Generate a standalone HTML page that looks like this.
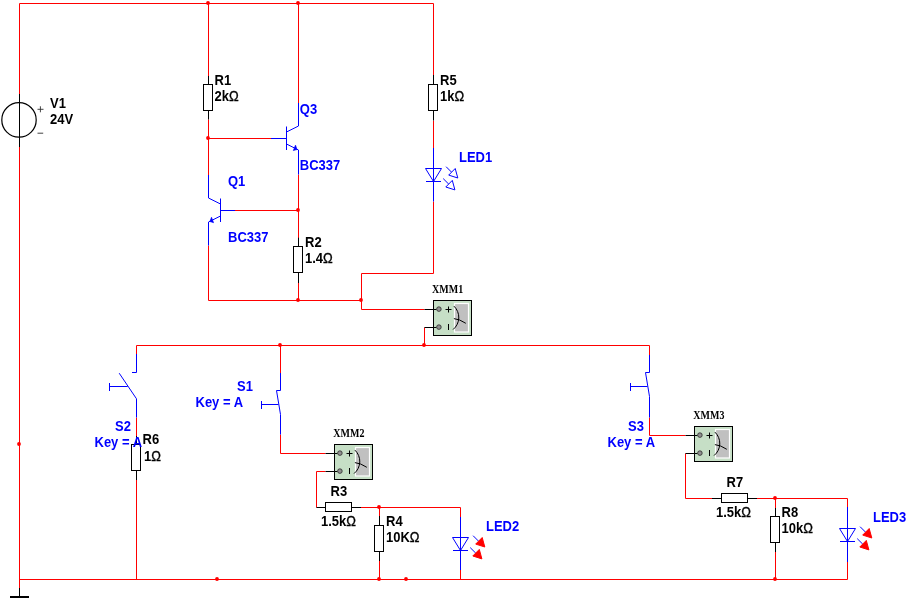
<!DOCTYPE html>
<html lang="en">
<head>
<meta charset="utf-8">
<title>Circuit schematic</title>
<style>
html,body{margin:0;padding:0;background:#fff;}
body{width:912px;height:616px;overflow:hidden;}
svg{display:block;}
.lb{font-family:"Liberation Sans",Arial,sans-serif;font-size:13px;font-weight:700;}
.om{font-weight:400;font-size:13px;stroke:#000;stroke-width:0.35px;}
.xm{font-family:"Liberation Serif","Times New Roman",serif;font-size:11.6px;font-weight:700;}
</style>
</head>
<body>
<svg width="912" height="616" viewBox="0 0 912 616">
<defs><filter id="soft" x="0" y="0" width="100%" height="100%" filterUnits="userSpaceOnUse"><feGaussianBlur stdDeviation="0.3"/></filter></defs>
<rect x="0" y="0" width="912" height="616" fill="#ffffff"/>
<g filter="url(#soft)">
<polyline points="433.5,60 433.5,3.5 19.5,3.5 19.5,94" stroke="#ff0000" stroke-width="1" fill="none" />
<polyline points="19.5,147 19.5,588" stroke="#ff0000" stroke-width="1" fill="none" />
<polyline points="19.5,579.5 847.5,579.5 847.5,562" stroke="#ff0000" stroke-width="1" fill="none" />
<polyline points="19.5,588 19.5,596" stroke="#000000" stroke-width="1" fill="none" />
<rect x="10" y="596" width="19" height="2" fill="#000000"/>
<polyline points="208.5,3.5 208.5,76" stroke="#ff0000" stroke-width="1" fill="none" />
<polyline points="208.5,119.5 208.5,175" stroke="#ff0000" stroke-width="1" fill="none" />
<polyline points="208.5,138.5 271,138.5" stroke="#ff0000" stroke-width="1" fill="none" />
<polyline points="298.5,3.5 298.5,103" stroke="#ff0000" stroke-width="1" fill="none" />
<polyline points="298.5,174.5 298.5,238" stroke="#ff0000" stroke-width="1" fill="none" />
<polyline points="235,210.5 298.5,210.5" stroke="#ff0000" stroke-width="1" fill="none" />
<polyline points="298.5,283 298.5,300.5" stroke="#ff0000" stroke-width="1" fill="none" />
<polyline points="208.5,245.5 208.5,300.5 361.5,300.5" stroke="#ff0000" stroke-width="1" fill="none" />
<polyline points="433.5,120.5 433.5,148" stroke="#ff0000" stroke-width="1" fill="none" />
<polyline points="433.5,201.5 433.5,273.5 361.5,273.5 361.5,309.5 424.5,309.5" stroke="#ff0000" stroke-width="1" fill="none" />
<polyline points="424.5,327.5 424.5,345.5" stroke="#ff0000" stroke-width="1" fill="none" />
<polyline points="136.5,354 136.5,345.5 649.5,345.5 649.5,355" stroke="#ff0000" stroke-width="1" fill="none" />
<polyline points="136.5,417.5 136.5,436" stroke="#ff0000" stroke-width="1" fill="none" />
<polyline points="136.5,480 136.5,579.5" stroke="#ff0000" stroke-width="1" fill="none" />
<polyline points="280.5,345.5 280.5,373" stroke="#ff0000" stroke-width="1" fill="none" />
<polyline points="280.5,434.5 280.5,453.5 325.5,453.5" stroke="#ff0000" stroke-width="1" fill="none" />
<polyline points="325.5,471.5 316.5,471.5 316.5,507.5" stroke="#ff0000" stroke-width="1" fill="none" />
<polyline points="361,507.5 460.5,507.5 460.5,517" stroke="#ff0000" stroke-width="1" fill="none" />
<polyline points="379.5,507.5 379.5,516" stroke="#ff0000" stroke-width="1" fill="none" />
<polyline points="379.5,561 379.5,579.5" stroke="#ff0000" stroke-width="1" fill="none" />
<polyline points="460.5,570 460.5,579.5" stroke="#ff0000" stroke-width="1" fill="none" />
<polyline points="649.5,417.5 649.5,435.5 685.5,435.5" stroke="#ff0000" stroke-width="1" fill="none" />
<polyline points="685.5,453.5 685.5,498.5 712,498.5" stroke="#ff0000" stroke-width="1" fill="none" />
<polyline points="757,498.5 847.5,498.5 847.5,507" stroke="#ff0000" stroke-width="1" fill="none" />
<polyline points="775.5,498.5 775.5,508" stroke="#ff0000" stroke-width="1" fill="none" />
<polyline points="775.5,552 775.5,579.5" stroke="#ff0000" stroke-width="1" fill="none" />
<polyline points="19.5,94 19.5,147" stroke="#000000" stroke-width="1" fill="none" />
<circle cx="19" cy="119.9" r="17.2" fill="none" stroke="#000000" stroke-width="1.2"/>
<polyline points="37.5,109.3 43.5,109.3" stroke="#303030" stroke-width="0.9" fill="none" />
<polyline points="40.4,106.3 40.4,112.3" stroke="#303030" stroke-width="0.9" fill="none" />
<polyline points="37.5,133.2 43.2,133.2" stroke="#303030" stroke-width="0.9" fill="none" />
<text transform="translate(50,108.3) scale(1,1.18)" fill="#000000" class="lb">V1</text>
<text transform="translate(50,124.3) scale(1,1.18)" fill="#000000" class="lb">24V</text>
<polyline points="208.5,76 208.5,84.5" stroke="#000000" stroke-width="1" fill="none" />
<polyline points="208.5,110.5 208.5,119.5" stroke="#000000" stroke-width="1" fill="none" />
<rect x="203.5" y="84.5" width="9" height="26" fill="#fff" stroke="#000000" stroke-width="1"/>
<text transform="translate(214.5,85.3) scale(1,1.18)" fill="#000000" class="lb">R1</text>
<text transform="translate(214.5,101.3) scale(1,1.18)" fill="#000000" class="lb">2k<tspan class="om">Ω</tspan></text>
<polyline points="298.5,237.7 298.5,246.5" stroke="#000000" stroke-width="1" fill="none" />
<polyline points="298.5,272.5 298.5,283" stroke="#000000" stroke-width="1" fill="none" />
<rect x="293.5" y="246.5" width="9" height="26" fill="#fff" stroke="#000000" stroke-width="1"/>
<text transform="translate(305,247.3) scale(1,1.18)" fill="#000000" class="lb">R2</text>
<text transform="translate(305,263.3) scale(1,1.18)" fill="#000000" class="lb">1.4<tspan class="om">Ω</tspan></text>
<polyline points="433.5,60 433.5,75" stroke="#ff0000" stroke-width="1" fill="none" />
<polyline points="433.5,75 433.5,84.5" stroke="#000000" stroke-width="1" fill="none" />
<polyline points="433.5,110.5 433.5,120.5" stroke="#000000" stroke-width="1" fill="none" />
<rect x="428.5" y="84.5" width="9" height="26" fill="#fff" stroke="#000000" stroke-width="1"/>
<text transform="translate(440,85.3) scale(1,1.18)" fill="#000000" class="lb">R5</text>
<text transform="translate(440,101.3) scale(1,1.18)" fill="#000000" class="lb">1k<tspan class="om">Ω</tspan></text>
<polyline points="136.5,436 136.5,444.5" stroke="#000000" stroke-width="1" fill="none" />
<polyline points="136.5,470.5 136.5,480" stroke="#000000" stroke-width="1" fill="none" />
<rect x="131.5" y="444.5" width="9" height="26" fill="#fff" stroke="#000000" stroke-width="1"/>
<text transform="translate(142.5,444.3) scale(1,1.18)" fill="#000000" class="lb">R6</text>
<text transform="translate(144,460.8) scale(1,1.18)" fill="#000000" class="lb">1<tspan class="om">Ω</tspan></text>
<polyline points="379.5,516 379.5,525.5" stroke="#000000" stroke-width="1" fill="none" />
<polyline points="379.5,551.5 379.5,561" stroke="#000000" stroke-width="1" fill="none" />
<rect x="374.5" y="525.5" width="9" height="26" fill="#fff" stroke="#000000" stroke-width="1"/>
<text transform="translate(386,526.3) scale(1,1.18)" fill="#000000" class="lb">R4</text>
<text transform="translate(386,542.3) scale(1,1.18)" fill="#000000" class="lb">10K<tspan class="om">Ω</tspan></text>
<polyline points="775.5,508 775.5,516.5" stroke="#000000" stroke-width="1" fill="none" />
<polyline points="775.5,542.5 775.5,552" stroke="#000000" stroke-width="1" fill="none" />
<rect x="770.5" y="516.5" width="9" height="26" fill="#fff" stroke="#000000" stroke-width="1"/>
<text transform="translate(781.5,517) scale(1,1.18)" fill="#000000" class="lb">R8</text>
<text transform="translate(781.5,532.8) scale(1,1.18)" fill="#000000" class="lb">10k<tspan class="om">Ω</tspan></text>
<polyline points="316.5,507.5 325.5,507.5" stroke="#000000" stroke-width="1" fill="none" />
<polyline points="351.5,507.5 361,507.5" stroke="#000000" stroke-width="1" fill="none" />
<rect x="325.5" y="502.5" width="26" height="9" fill="#fff" stroke="#000000" stroke-width="1"/>
<text transform="translate(330.5,495.8) scale(1,1.18)" fill="#000000" class="lb">R3</text>
<text transform="translate(321,526.3) scale(1,1.18)" fill="#000000" class="lb">1.5k<tspan class="om">Ω</tspan></text>
<polyline points="712,498.5 721.5,498.5" stroke="#000000" stroke-width="1" fill="none" />
<polyline points="747.5,498.5 757,498.5" stroke="#000000" stroke-width="1" fill="none" />
<rect x="721.5" y="493.5" width="26" height="9" fill="#fff" stroke="#000000" stroke-width="1"/>
<text transform="translate(726.5,486.8) scale(1,1.18)" fill="#000000" class="lb">R7</text>
<text transform="translate(716,516.8) scale(1,1.18)" fill="#000000" class="lb">1.5k<tspan class="om">Ω</tspan></text>
<polyline points="271,138.5 286.5,138.5" stroke="#0000ff" stroke-width="1" fill="none" />
<polyline points="286.5,126.5 286.5,150" stroke="#0000ff" stroke-width="1" fill="none" />
<polyline points="298.5,103 298.5,126 286.5,132" stroke="#0000ff" stroke-width="1" fill="none" />
<polyline points="286.5,144 298.5,150 298.5,174.5" stroke="#0000ff" stroke-width="1" fill="none" />
<polygon points="295.5,145.1 297,149.5 293.3,150.6" fill="#0000ff" stroke="#0000ff" stroke-width="0.6" stroke-linejoin="round"/>
<text transform="translate(299.8,114.1) scale(1,1.18)" fill="#0000ff" class="lb">Q3</text>
<text transform="translate(299.8,169.8) scale(1,1.18)" fill="#0000ff" class="lb">BC337</text>
<polyline points="220.5,210.5 235,210.5" stroke="#0000ff" stroke-width="1" fill="none" />
<polyline points="220.5,198.5 220.5,222" stroke="#0000ff" stroke-width="1" fill="none" />
<polyline points="208.5,175 208.5,198 220.5,204" stroke="#0000ff" stroke-width="1" fill="none" />
<polyline points="220.5,216 208.5,222 208.5,245.5" stroke="#0000ff" stroke-width="1" fill="none" />
<polygon points="211.5,217.2 209.9,221.5 213.6,222.7" fill="#0000ff" stroke="#0000ff" stroke-width="0.6" stroke-linejoin="round"/>
<text transform="translate(228,186.3) scale(1,1.18)" fill="#0000ff" class="lb">Q1</text>
<text transform="translate(228,242.1) scale(1,1.18)" fill="#0000ff" class="lb">BC337</text>
<polyline points="433.5,148 433.5,201.5" stroke="#0000ff" stroke-width="1" fill="none" />
<polygon points="425.5,168.5 441.5,168.5 433.5,181.5" fill="none" stroke="#0000ff" stroke-width="1"/>
<polyline points="426,181.5 441,181.5" stroke="#0000ff" stroke-width="1" fill="none" />
<polyline points="446.1,166.7 451.7,172.3" stroke="#0000ff" stroke-width="1" fill="none" />
<polygon points="455.2,168.5 448.7,175.1 457.8,178" fill="#fff" stroke="#0000ff" stroke-width="1"/>
<polyline points="443.2,178.6 448.8,184.2" stroke="#0000ff" stroke-width="1" fill="none" />
<polygon points="452.3,180.4 445.8,187 454.9,189.9" fill="#fff" stroke="#0000ff" stroke-width="1"/>
<text transform="translate(459,162.3) scale(1,1.18)" fill="#0000ff" class="lb">LED1</text>
<polyline points="460.5,517 460.5,570" stroke="#0000ff" stroke-width="1" fill="none" />
<polygon points="452.5,537.5 468.5,537.5 460.5,550.5" fill="none" stroke="#0000ff" stroke-width="1"/>
<polyline points="453,550.5 468,550.5" stroke="#0000ff" stroke-width="1" fill="none" />
<polyline points="473.1,535.7 478.7,541.3" stroke="#0000ff" stroke-width="1" fill="none" />
<polygon points="482.2,537.5 475.7,544.1 484.8,547" fill="#ff0000" stroke="#ff0000" stroke-width="1"/>
<polyline points="470.2,547.6 475.8,553.2" stroke="#0000ff" stroke-width="1" fill="none" />
<polygon points="479.3,549.4 472.8,556 481.9,558.9" fill="#ff0000" stroke="#ff0000" stroke-width="1"/>
<text transform="translate(486,531.3) scale(1,1.18)" fill="#0000ff" class="lb">LED2</text>
<polyline points="847.5,507 847.5,562" stroke="#0000ff" stroke-width="1" fill="none" />
<polygon points="839.5,528.5 855.5,528.5 847.5,541.5" fill="none" stroke="#0000ff" stroke-width="1"/>
<polyline points="840,541.5 855,541.5" stroke="#0000ff" stroke-width="1" fill="none" />
<polyline points="860.1,526.7 865.7,532.3" stroke="#0000ff" stroke-width="1" fill="none" />
<polygon points="869.2,528.5 862.7,535.1 871.8,538" fill="#ff0000" stroke="#ff0000" stroke-width="1"/>
<polyline points="857.2,538.6 862.8,544.2" stroke="#0000ff" stroke-width="1" fill="none" />
<polygon points="866.3,540.4 859.8,547 868.9,549.9" fill="#ff0000" stroke="#ff0000" stroke-width="1"/>
<text transform="translate(873,522.3) scale(1,1.18)" fill="#0000ff" class="lb">LED3</text>
<polyline points="136.5,354 136.5,372.5 132,372.5" stroke="#0000ff" stroke-width="1" fill="none" />
<polyline points="119.2,373.2 136.5,398.8 136.5,417.5" stroke="#0000ff" stroke-width="1" fill="none" />
<polyline points="109.5,386.5 127.7,386.5" stroke="#0000ff" stroke-width="1" fill="none" />
<polyline points="109.5,383 109.5,391" stroke="#0000ff" stroke-width="1" fill="none" />
<text transform="translate(115,430.8) scale(1,1.18)" fill="#0000ff" class="lb">S2</text>
<text transform="translate(94.5,446.8) scale(1,1.18)" fill="#0000ff" class="lb">Key = A</text>
<polyline points="280.5,373 280.5,390.5 276.5,390.5 280.5,414.5 280.5,434.5" stroke="#0000ff" stroke-width="1" fill="none" />
<polyline points="261.5,404.5 278.5,404.5" stroke="#0000ff" stroke-width="1" fill="none" />
<polyline points="261.5,401 261.5,409" stroke="#0000ff" stroke-width="1" fill="none" />
<text transform="translate(237,390.8) scale(1,1.18)" fill="#0000ff" class="lb">S1</text>
<text transform="translate(195.5,406.8) scale(1,1.18)" fill="#0000ff" class="lb">Key = A</text>
<polyline points="649.5,355 649.5,372.5 645.5,372.5 649.5,396.5 649.5,417.5" stroke="#0000ff" stroke-width="1" fill="none" />
<polyline points="630.5,386.5 647.5,386.5" stroke="#0000ff" stroke-width="1" fill="none" />
<polyline points="630.5,383 630.5,391" stroke="#0000ff" stroke-width="1" fill="none" />
<text transform="translate(628,430.8) scale(1,1.18)" fill="#0000ff" class="lb">S3</text>
<text transform="translate(607.5,446.8) scale(1,1.18)" fill="#0000ff" class="lb">Key = A</text>
<rect x="433.5" y="300.5" width="38" height="35" fill="#c6dfc6" stroke="#000000" stroke-width="1"/>
<rect x="454.5" y="303.5" width="14" height="28.5" fill="#c0c0c0" stroke="#fff" stroke-width="1.2"/>
<polyline points="424.5,309.5 436.5,309.5" stroke="#000000" stroke-width="1" fill="none" />
<circle cx="438.9" cy="309.1" r="2.3" fill="#909090" stroke="#282828" stroke-width="0.8"/>
<polyline points="424.5,327.5 436.5,327.5" stroke="#000000" stroke-width="1" fill="none" />
<circle cx="438.9" cy="327.1" r="2.3" fill="#909090" stroke="#282828" stroke-width="0.8"/>
<polyline points="445.5,309.5 451.5,309.5" stroke="#000000" stroke-width="1" fill="none" />
<polyline points="448.5,306.5 448.5,312.5" stroke="#000000" stroke-width="1" fill="none" />
<polyline points="448.5,324 448.5,330" stroke="#000000" stroke-width="1" fill="none" />
<path d="M453.9,306.1 A15.6,15.6 0 0 1 453.1,329.5" fill="none" stroke="#000000" stroke-width="1"/>
<path d="M453.9,318.6 Q459.5,319.1 465.8,323.3" fill="none" stroke="#000000" stroke-width="1"/>
<text transform="translate(432,292.7) scale(0.865,1)" fill="#000000" class="xm">XMM1</text>
<rect x="334.5" y="444.5" width="38" height="35" fill="#c6dfc6" stroke="#000000" stroke-width="1"/>
<rect x="355.5" y="447.5" width="14" height="28.5" fill="#c0c0c0" stroke="#fff" stroke-width="1.2"/>
<polyline points="325.5,453.5 337.5,453.5" stroke="#000000" stroke-width="1" fill="none" />
<circle cx="339.9" cy="453.1" r="2.3" fill="#909090" stroke="#282828" stroke-width="0.8"/>
<polyline points="325.5,471.5 337.5,471.5" stroke="#000000" stroke-width="1" fill="none" />
<circle cx="339.9" cy="471.1" r="2.3" fill="#909090" stroke="#282828" stroke-width="0.8"/>
<polyline points="346.5,453.5 352.5,453.5" stroke="#000000" stroke-width="1" fill="none" />
<polyline points="349.5,450.5 349.5,456.5" stroke="#000000" stroke-width="1" fill="none" />
<polyline points="349.5,468 349.5,474" stroke="#000000" stroke-width="1" fill="none" />
<path d="M354.9,450.1 A15.6,15.6 0 0 1 354.1,473.5" fill="none" stroke="#000000" stroke-width="1"/>
<path d="M354.9,462.6 Q360.5,463.1 366.8,467.3" fill="none" stroke="#000000" stroke-width="1"/>
<text transform="translate(333.3,436.7) scale(0.865,1)" fill="#000000" class="xm">XMM2</text>
<rect x="694.5" y="426.5" width="38" height="35" fill="#c6dfc6" stroke="#000000" stroke-width="1"/>
<rect x="715.5" y="429.5" width="14" height="28.5" fill="#c0c0c0" stroke="#fff" stroke-width="1.2"/>
<polyline points="685.5,435.5 697.5,435.5" stroke="#000000" stroke-width="1" fill="none" />
<circle cx="699.9" cy="435.1" r="2.3" fill="#909090" stroke="#282828" stroke-width="0.8"/>
<polyline points="685.5,453.5 697.5,453.5" stroke="#000000" stroke-width="1" fill="none" />
<circle cx="699.9" cy="453.1" r="2.3" fill="#909090" stroke="#282828" stroke-width="0.8"/>
<polyline points="706.5,435.5 712.5,435.5" stroke="#000000" stroke-width="1" fill="none" />
<polyline points="709.5,432.5 709.5,438.5" stroke="#000000" stroke-width="1" fill="none" />
<polyline points="709.5,450 709.5,456" stroke="#000000" stroke-width="1" fill="none" />
<path d="M714.9,432.1 A15.6,15.6 0 0 1 714.1,455.5" fill="none" stroke="#000000" stroke-width="1"/>
<path d="M714.9,444.6 Q720.5,445.1 726.8,449.3" fill="none" stroke="#000000" stroke-width="1"/>
<text transform="translate(693.3,418.7) scale(0.865,1)" fill="#000000" class="xm">XMM3</text>
<circle cx="208" cy="3" r="1.9" fill="#ff0000"/>
<circle cx="298" cy="3" r="1.9" fill="#ff0000"/>
<circle cx="208" cy="138" r="1.9" fill="#ff0000"/>
<circle cx="298" cy="210" r="1.9" fill="#ff0000"/>
<circle cx="298" cy="300" r="1.9" fill="#ff0000"/>
<circle cx="361" cy="300" r="1.9" fill="#ff0000"/>
<circle cx="424" cy="345" r="1.9" fill="#ff0000"/>
<circle cx="280" cy="345" r="1.9" fill="#ff0000"/>
<circle cx="19" cy="444" r="1.9" fill="#ff0000"/>
<circle cx="217" cy="579" r="1.9" fill="#ff0000"/>
<circle cx="379" cy="579" r="1.9" fill="#ff0000"/>
<circle cx="406" cy="579" r="1.9" fill="#ff0000"/>
<circle cx="379" cy="507" r="1.9" fill="#ff0000"/>
<circle cx="775" cy="498" r="1.9" fill="#ff0000"/>
<circle cx="775" cy="579" r="1.9" fill="#ff0000"/>
</g>
</svg>
</body>
</html>
